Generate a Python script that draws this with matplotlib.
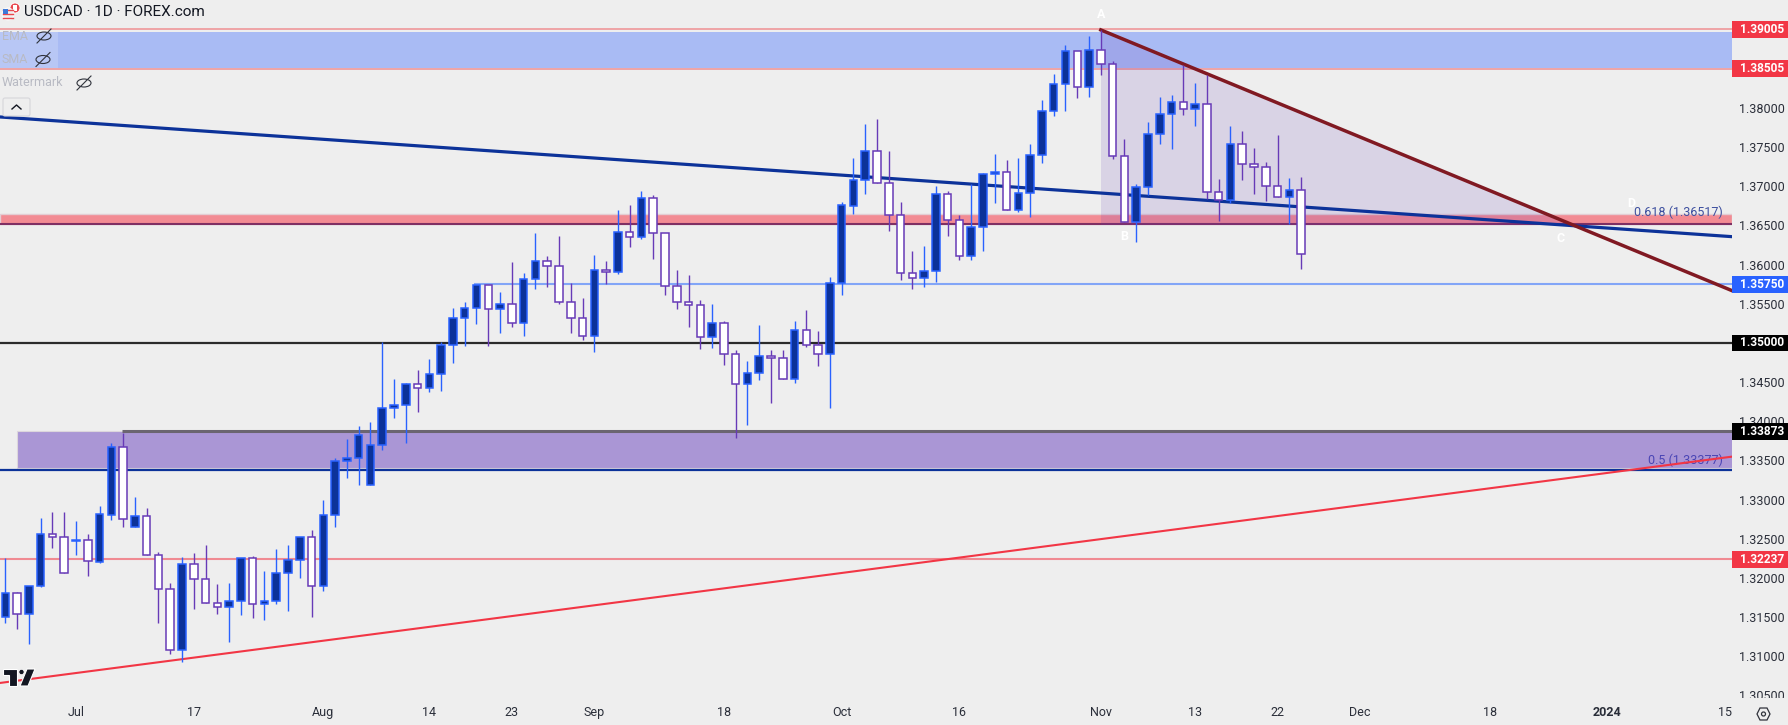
import matplotlib
matplotlib.use("Agg")
import matplotlib.pyplot as plt
from matplotlib.patches import Rectangle, Polygon, Circle, Ellipse, FancyBboxPatch
from matplotlib.lines import Line2D
from matplotlib.transforms import Affine2D

plt.rcParams['font.family'] = ['Roboto', 'DejaVu Sans']

# daily candles, values
opens = [1.31498, 1.31804, 1.31536, 1.31902, 1.32558, 1.32519, 1.32477, 1.32481, 1.32209, 1.32809,
         1.33668, 1.32647, 1.32787, 1.32290, 1.31856, 1.31077, 1.32175, 1.31983, 1.31677, 1.31626,
         1.31702, 1.32251, 1.31664, 1.31702, 1.32060, 1.32226, 1.32519, 1.31894, 1.32800, 1.33489,
         1.33528, 1.33183, 1.33694, 1.34166, 1.34205, 1.34473, 1.34422, 1.34600, 1.34971, 1.35315,
         1.35443, 1.35736, 1.35430, 1.35494, 1.35251, 1.35813, 1.36043, 1.35979, 1.35519, 1.35315,
         1.35085, 1.35928, 1.35902, 1.36413, 1.36349, 1.36847, 1.36400, 1.35724, 1.35519, 1.35481,
         1.35073, 1.35251, 1.34856, 1.34473, 1.34613, 1.34830, 1.34805, 1.34537, 1.35162, 1.34971,
         1.34856, 1.35762, 1.36753, 1.37077, 1.37447, 1.37038, 1.36630, 1.35890, 1.35826, 1.35915,
         1.36898, 1.36566, 1.36107, 1.36477, 1.37153, 1.37179, 1.36694, 1.36911, 1.37396, 1.37957,
         1.38302, 1.38723, 1.38264, 1.38736, 1.38557, 1.37383, 1.36541, 1.36987, 1.37664, 1.37919,
         1.38072, 1.37983, 1.38047, 1.36923, 1.36821, 1.37536, 1.37281, 1.37243, 1.37000, 1.36860,
         1.36949]
highs = [1.32251, 1.31817, 1.31902, 1.32762, 1.32838, 1.32838, 1.32724, 1.32558, 1.32919, 1.33719,
         1.33855, 1.33034, 1.32894, 1.32328, 1.31932, 1.32264, 1.32319, 1.32417, 1.31924, 1.31932,
         1.32251, 1.32277, 1.32090, 1.32366, 1.32417, 1.32519, 1.32609, 1.32996, 1.33528, 1.33770,
         1.33941, 1.33987, 1.35009, 1.34537, 1.34485, 1.34651, 1.34792, 1.35009, 1.35443, 1.35519,
         1.35736, 1.35736, 1.35647, 1.36030, 1.35890, 1.36400, 1.36107, 1.36362, 1.35762, 1.35570,
         1.36119, 1.36043, 1.36694, 1.36758, 1.36936, 1.36885, 1.36400, 1.35928, 1.35864, 1.35545,
         1.35494, 1.35277, 1.34907, 1.34766, 1.35226, 1.34907, 1.34907, 1.35277, 1.35417, 1.35149,
         1.35839, 1.36796, 1.37358, 1.37792, 1.37855, 1.37447, 1.36796, 1.36170, 1.36234, 1.37000,
         1.36936, 1.36630, 1.37026, 1.37166, 1.37409, 1.37332, 1.37358, 1.37536, 1.38098, 1.38430,
         1.38800, 1.38723, 1.38915, 1.38996, 1.38596, 1.37600, 1.37026, 1.37817, 1.38136, 1.38162,
         1.38545, 1.38315, 1.38417, 1.37089, 1.37766, 1.37702, 1.37485, 1.37306, 1.37651, 1.37102,
         1.37115]
lows = [1.31430, 1.31353, 1.31162, 1.31885, 1.32387, 1.32060, 1.32294, 1.32030, 1.32196, 1.32741,
        1.32651, 1.32647, 1.32290, 1.31430, 1.31034, 1.30924, 1.31609, 1.31677, 1.31545, 1.31188,
        1.31532, 1.31494, 1.31468, 1.31673, 1.31583, 1.32004, 1.31507, 1.31839, 1.32655, 1.33281,
        1.33192, 1.33183, 1.33639, 1.34047, 1.33728, 1.34124, 1.34379, 1.34392, 1.34749, 1.34966,
        1.35247, 1.34966, 1.35132, 1.35209, 1.35094, 1.35694, 1.35711, 1.35502, 1.35132, 1.35043,
        1.34890, 1.35758, 1.35885, 1.36230, 1.36324, 1.36077, 1.35617, 1.35439, 1.35209, 1.34928,
        1.34941, 1.34724, 1.33792, 1.33958, 1.34532, 1.34239, 1.34537, 1.34494, 1.34953, 1.34711,
        1.34175, 1.35617, 1.36651, 1.36906, 1.37038, 1.36434, 1.35809, 1.35694, 1.35719, 1.35783,
        1.36370, 1.36064, 1.36064, 1.36179, 1.36792, 1.36694, 1.36677, 1.36613, 1.37302, 1.37902,
        1.37966, 1.38132, 1.38145, 1.38417, 1.37353, 1.36541, 1.36294, 1.36885, 1.37545, 1.37472,
        1.37915, 1.37775, 1.36834, 1.36553, 1.36783, 1.37081, 1.36906, 1.36817, 1.36860, 1.36515,
        1.35941]
closes = [1.31804, 1.31536, 1.31902, 1.32558, 1.32519, 1.32060, 1.32481, 1.32213, 1.32813, 1.33668,
          1.32749, 1.32787, 1.32290, 1.31856, 1.31077, 1.32175, 1.31983, 1.31677, 1.31626, 1.31702,
          1.32251, 1.31664, 1.31702, 1.32060, 1.32226, 1.32519, 1.31894, 1.32800, 1.33489, 1.33528,
          1.33821, 1.33694, 1.34166, 1.34205, 1.34473, 1.34422, 1.34600, 1.34971, 1.35315, 1.35443,
          1.35736, 1.35430, 1.35494, 1.35251, 1.35813, 1.36043, 1.35979, 1.35519, 1.35315, 1.35085,
          1.35928, 1.35902, 1.36413, 1.36349, 1.36847, 1.36400, 1.35724, 1.35519, 1.35481, 1.35073,
          1.35251, 1.34856, 1.34473, 1.34613, 1.34830, 1.34805, 1.34537, 1.35162, 1.34971, 1.34856,
          1.35762, 1.36758, 1.37077, 1.37447, 1.37038, 1.36630, 1.35890, 1.35826, 1.35915, 1.36898,
          1.36566, 1.36107, 1.36477, 1.37153, 1.37179, 1.36694, 1.36911, 1.37396, 1.37957, 1.38302,
          1.38723, 1.38264, 1.38736, 1.38557, 1.37383, 1.36541, 1.36987, 1.37664, 1.37919, 1.38072,
          1.37983, 1.38047, 1.36923, 1.36821, 1.37536, 1.37281, 1.37243, 1.37000, 1.36860, 1.36949,
          1.36132]

# axis labels
price_ticks = [1.305, 1.31, 1.315, 1.32, 1.325, 1.33, 1.335, 1.34, 1.345, 1.355, 1.36, 1.365, 1.37, 1.375, 1.38]
date_pos = [6, 16, 27, 36, 43, 50, 61, 71, 81, 93, 101, 108, 115, 126, 136, 146]
date_labels = ['Jul', '17', 'Aug', '14', '23', 'Sep', '18', 'Oct', '16', 'Nov', '13', '22', 'Dec', '18', '2024', '15']

# levels and boxes
blue_zone = [1.38505, 1.39005]
red_zone = [1.36517, 1.36651]
purple_zone = [1.33404, 1.33873]
level_1 = 1.3575
level_2 = 1.35
level_3 = 1.33377
level_4 = 1.32237
price_tags = [(1.39005, '#f23645'), (1.38505, '#f23645'), (1.3575, '#2962ff'),
              (1.35, '#000000'), (1.33873, '#000000'), (1.32237, '#f23645')]

# trend lines
x_left, x_right = -0.45, 146.58
navy_trend = [1.37885, 1.36357]
red_trend = [1.3066, 1.33549]
maroon_x = [93, x_right]
maroon_trend = [1.38996, 1.35668]

BG = '#eeeeee'
UP_FILL = '#0c3299'
UP_EDGE = '#2962ff'
DOWN_FILL = '#ffffff'
DOWN_EDGE = '#673ab7'

fig = plt.figure(figsize=(17.88, 7.25), dpi=100, facecolor=BG)
ax = fig.add_axes([0, 27 / 725, 1732 / 1788, 698 / 725], facecolor=BG)
ax.set_xlim(x_left, x_right)
ax.set_ylim(1.30468, 1.39378)

# zones
ax.axhspan(blue_zone[0], blue_zone[1] - 0.0003, color='#a9bbf4', lw=0, zorder=1)
ax.axhline(blue_zone[0] - 0.00005, color='#ee8f92', lw=1.1, zorder=1.2)
ax.axhline(blue_zone[1], color='#ee8f92', lw=1.1, zorder=1.2)
ax.axhspan(red_zone[0], red_zone[1], facecolor='#f28b93', edgecolor='#e3cdd3', lw=1, zorder=1)
ax.axhline(red_zone[0], color='#7f2f63', lw=1.5, zorder=1.3)
ax.add_patch(Rectangle((0.98, purple_zone[0]), x_right, purple_zone[1] - purple_zone[0],
                       facecolor='#aa96d5', edgecolor='#dcd6dc', lw=0.8, zorder=1))
ax.plot([9.9, x_right], [purple_zone[1], purple_zone[1]], color='#6b6570', lw=2.2, solid_capstyle='butt', zorder=1.3)

# horizontal levels
ax.plot([39.9, x_right], [level_1, level_1], color='#82a5f7', lw=1.5, zorder=1.3)
ax.axhline(level_2, color='#2a2a2a', lw=1.6, zorder=1.3)
ax.axhline(level_3, color='#0c3299', lw=1.6, zorder=1.3)
ax.axhline(level_4, color='#f08a92', lw=1.5, zorder=1.3)

# pattern triangle
ax.add_patch(Polygon([(93, 1.38996), (93, 1.3651), (133.3, 1.3651)], closed=True,
                     facecolor='#673ab7', alpha=0.15, lw=0, zorder=1.5))

# trend lines
ax.plot([x_left, x_right], navy_trend, color='#0c3299', lw=2.3, zorder=1.6)
ax.plot([x_left, x_right], red_trend, color='#f23645', lw=1.5, zorder=1.7)
ax.plot(maroon_x, maroon_trend, color='#801922', lw=2.5, zorder=1.6)

# candles
for i in range(len(opens)):
    up = closes[i] >= opens[i]
    edge = UP_EDGE if up else DOWN_EDGE
    fill = UP_FILL if up else DOWN_FILL
    ax.vlines(i, lows[i], highs[i], color=edge, lw=1.0, zorder=3)
    bottom = min(opens[i], closes[i])
    height = abs(closes[i] - opens[i])
    ax.bar(i, height, bottom=bottom, width=0.64, facecolor=fill, edgecolor=edge, lw=1.1, zorder=3.1)

# pattern text
ax.text(145.8, 1.36664, '0.618 (1.36517)', fontsize=9, color='#3d4f9f', ha='right', va='center', zorder=1.65)
ax.text(145.8, 1.33497, '0.5 (1.33377)', fontsize=9, color='#4a45b5', ha='right', va='center', zorder=1.65)
for s, xp, yp in [('A', 93, 1.39187), ('B', 95, 1.36353), ('C', 132, 1.36328), ('D', 138, 1.36774)]:
    ax.text(xp, yp, s, fontsize=9, color='white', fontweight='bold', ha='center', va='center', zorder=2)

# price axis
ax.yaxis.tick_right()
ax.set_yticks(price_ticks, [f'{p:.5f}' for p in price_ticks])
ax.tick_params(axis='y', length=0, pad=5, labelsize=9, labelcolor='#2a2e39')
ax.set_xticks(date_pos, date_labels)
ax.tick_params(axis='x', length=0, pad=6, labelsize=9, labelcolor='#2a2e39')
for t in ax.get_xticklabels():
    if t.get_text() == '2024':
        t.set_fontweight('bold')
for s in ax.spines.values():
    s.set_visible(False)

# coloured price tags
tr = ax.get_yaxis_transform()
for p, c in price_tags:
    ax.add_patch(Rectangle((1, p - 0.00108), 56 / 1732, 0.00216, transform=tr, facecolor=c, lw=0,
                           clip_on=False, zorder=5))
    ax.text(1 + 8 / 1732, p, f'{p:.5f}', transform=tr, color='white', fontsize=8.6, fontweight='bold',
            ha='left', va='center', zorder=6, clip_on=False)

# header, legend and logo are drawn in pixel coordinates
px = Affine2D().scale(1, -1).translate(0, 725)

fig.add_artist(Rectangle((1732, 698), 56, 27, transform=px, facecolor=BG, lw=0, zorder=2))
fig.add_artist(Rectangle((0, 32), 58, 36, transform=px, facecolor='white', alpha=0.18, lw=0, zorder=2))

fig.add_artist(Circle((15, 8), 5, transform=px, facecolor='#e8484f', edgecolor='white', lw=0.6, zorder=3))
fig.add_artist(Rectangle((13, 5), 4, 6, transform=px, facecolor='white', lw=0, zorder=3.1))
fig.add_artist(Circle((8, 14), 6, transform=px, facecolor='#f0f0f0', edgecolor='white', lw=0.6, zorder=3.2))
fig.add_artist(Rectangle((3, 9), 5, 5, transform=px, facecolor='#3c78d8', lw=0, zorder=3.3))
for yy in (10, 14, 18):
    fig.add_artist(Line2D([3, 13], [yy, yy], transform=px, color='#e8484f', lw=1.0, zorder=3.25))

fig.text(24.5, 12, 'USDCAD · 1D · FOREX.com', transform=px, fontsize=11, color='#131722', va='center', zorder=4)
for label, yy, ex in [('EMA', 36, 44), ('SMA', 59.5, 43), ('Watermark', 83, 84)]:
    fig.text(2, yy, label, transform=px, fontsize=9, color='#b8bac3', va='center', zorder=4)
    fig.add_artist(Ellipse((ex, yy), 14, 8, transform=px, fill=False, edgecolor='#30333c', lw=0.8, zorder=4))
    fig.add_artist(Line2D([ex - 7, ex + 7], [yy + 7, yy - 7], transform=px, color='#30333c', lw=0.8, zorder=4))

fig.add_artist(FancyBboxPatch((3, 98), 27, 18, boxstyle='round,pad=0,rounding_size=2', transform=px,
                              facecolor=BG, edgecolor='#d6d6da', lw=0.8, zorder=4))
fig.add_artist(Line2D([12, 16.5, 21], [109, 105, 109], transform=px, color='#131722', lw=1.0, zorder=4.1))

# TradingView mark
fig.add_artist(Polygon([(3, 669), (17, 669), (17, 686), (9, 686), (9, 675), (3, 675)], closed=True, transform=px,
                       facecolor='#131722', edgecolor='white', lw=0.8, zorder=4))
fig.add_artist(Circle((21.5, 672), 2.6, transform=px, facecolor='#131722', edgecolor='white', lw=0.5, zorder=4))
fig.add_artist(Polygon([(27, 669), (35, 669), (28, 686), (20, 686)], closed=True, transform=px,
                       facecolor='#131722', edgecolor='white', lw=0.8, zorder=4))

# settings icon
fig.add_artist(Polygon([(1757, 714), (1760, 708), (1767, 708), (1770, 714), (1767, 720), (1760, 720)], closed=True,
                       transform=px, fill=False, edgecolor='#30333c', lw=0.9, zorder=4))
fig.add_artist(Circle((1763.5, 714), 2, transform=px, fill=False, edgecolor='#30333c', lw=0.9, zorder=4))

plt.savefig('out.png', dpi=100, facecolor=BG)
plt.close()
